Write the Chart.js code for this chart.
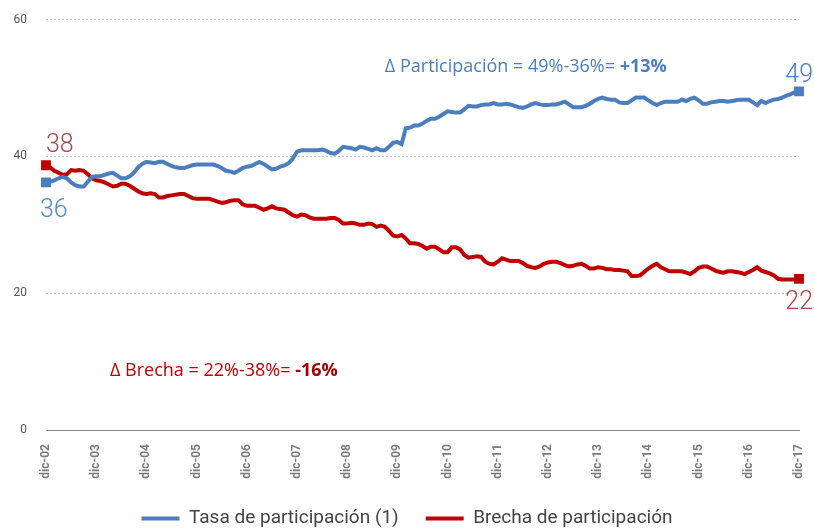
<!DOCTYPE html>
<html>
<head>
<meta charset="utf-8">
<script src="https://cdn.jsdelivr.net/npm/chart.js@4.4.1/dist/chart.umd.min.js"></script>
<style>
  body { margin: 0; background: #fff; }
  canvas { display: block; }
</style>
</head>
<body>
<canvas id="chart" width="814" height="531"></canvas>
<script>
// meses: dic-02 ... dic-17
var monthNames = ['ene','feb','mar','abr','may','jun','jul','ago','sep','oct','nov','dic'];
var labels = [];
for (var k = 0; k <= 180; k++) {
    var m = (11 + k) % 12;
    var yy = 2 + Math.floor((11 + k) / 12);
    labels.push(monthNames[m] + '-' + (yy < 10 ? '0' + yy : '' + yy));
}

var tasaParticipacion = [
    36.2, 36.3, 36.5, 36.8, 37.0, 36.8, 36.2, 35.8, 35.6, 35.6,
    36.3, 37.0, 37.1, 37.1, 37.3, 37.5, 37.6, 37.2, 36.8, 36.8,
    37.1, 37.6, 38.4, 38.9, 39.2, 39.1, 39.0, 39.2, 39.2, 38.9,
    38.6, 38.4, 38.3, 38.3, 38.5, 38.7, 38.8, 38.8, 38.8, 38.8,
    38.8, 38.6, 38.3, 37.9, 37.8, 37.6, 37.9, 38.3, 38.5, 38.6,
    38.9, 39.2, 38.9, 38.5, 38.1, 38.2, 38.5, 38.7, 39.0, 39.7,
    40.7, 40.9, 40.9, 40.9, 40.9, 40.9, 41.0, 40.8, 40.5, 40.4,
    40.8, 41.4, 41.3, 41.2, 41.0, 41.4, 41.3, 41.1, 40.9, 41.2,
    40.9, 40.9, 41.4, 42.0, 42.1, 41.8, 44.1, 44.2, 44.5, 44.5,
    44.8, 45.2, 45.5, 45.5, 45.8, 46.2, 46.6, 46.5, 46.4, 46.4,
    46.9, 47.4, 47.3, 47.3, 47.5, 47.6, 47.6, 47.8, 47.6, 47.6,
    47.7, 47.6, 47.4, 47.2, 47.1, 47.3, 47.6, 47.8, 47.6, 47.5,
    47.5, 47.6, 47.6, 47.8, 48.0, 47.6, 47.2, 47.2, 47.2, 47.4,
    47.7, 48.1, 48.4, 48.6, 48.4, 48.3, 48.3, 47.9, 47.8, 47.8,
    48.2, 48.6, 48.6, 48.6, 48.2, 47.8, 47.5, 47.8, 48.0, 48.0,
    48.0, 48.0, 48.3, 48.1, 48.4, 48.6, 48.2, 47.7, 47.7, 47.9,
    48.0, 48.1, 48.1, 48.0, 48.1, 48.2, 48.3, 48.3, 48.3, 47.9,
    47.5, 48.1, 47.8, 48.1, 48.3, 48.4, 48.6, 48.9, 49.1, 49.4,
    49.5
];

var brechaParticipacion = [
    38.7, 38.4, 37.9, 37.6, 37.3, 37.4, 38.0, 37.9, 38.0, 37.9,
    37.4, 36.8, 36.5, 36.4, 36.2, 35.9, 35.6, 35.7, 36.0, 36.0,
    35.7, 35.3, 34.9, 34.6, 34.5, 34.6, 34.5, 34.0, 34.0, 34.2,
    34.3, 34.4, 34.5, 34.5, 34.2, 33.9, 33.8, 33.8, 33.8, 33.8,
    33.6, 33.4, 33.2, 33.3, 33.5, 33.6, 33.6, 33.0, 32.8, 32.8,
    32.8, 32.5, 32.2, 32.4, 32.7, 32.4, 32.3, 32.2, 31.8, 31.4,
    31.2, 31.5, 31.4, 31.1, 30.9, 30.9, 30.9, 30.9, 31.0, 31.0,
    30.7, 30.2, 30.2, 30.3, 30.2, 30.0, 30.0, 30.2, 30.1, 29.7,
    29.9, 29.7, 29.1, 28.4, 28.3, 28.5, 28.0, 27.3, 27.3, 27.2,
    26.9, 26.5, 26.8, 26.8, 26.4, 26.0, 26.0, 26.7, 26.7, 26.4,
    25.6, 25.2, 25.3, 25.4, 25.3, 24.6, 24.3, 24.2, 24.6, 25.1,
    24.9, 24.7, 24.7, 24.7, 24.4, 24.0, 23.8, 23.7, 23.9, 24.3,
    24.5, 24.6, 24.6, 24.4, 24.1, 23.9, 24.0, 24.2, 24.3, 24.0,
    23.6, 23.6, 23.8, 23.7, 23.5, 23.5, 23.4, 23.4, 23.3, 23.2,
    22.5, 22.5, 22.6, 23.1, 23.6, 24.0, 24.3, 23.8, 23.5, 23.2,
    23.2, 23.2, 23.2, 23.0, 22.8, 23.2, 23.7, 23.9, 23.9, 23.6,
    23.3, 23.1, 23.0, 23.2, 23.2, 23.1, 23.0, 22.8, 23.1, 23.4,
    23.8, 23.3, 23.1, 22.9, 22.6, 22.1, 22.0, 22.0, 22.0, 22.0,
    22.1
];

var yTicks = [0, 20, 40, 60];

var BLUE = '#4a7ebf';
var RED = '#c00000';
var FONT = 'Roboto, "Liberation Sans", sans-serif';
var NOTE_FONT = '"Open Sans", "Noto Sans", sans-serif';

// solo marcador cuadrado en el primer y último punto
function endPoints(n, r) {
    var a = [];
    for (var i = 0; i < n; i++) a.push(i === 0 || i === n - 1 ? r : 0);
    return a;
}

var notesPlugin = {
    id: 'notes',
    afterDatasetsDraw: function (chart) {
        var ctx = chart.ctx;
        var x = chart.scales.x, y = chart.scales.y;
        var last = labels.length - 1;
        ctx.save();
        ctx.textBaseline = 'alphabetic';

        // valores inicio / fin
        ctx.font = '300 25px ' + FONT;
        ctx.textAlign = 'left';
        ctx.fillStyle = '#a8484a';
        ctx.fillText('38', x.getPixelForValue(0), y.getPixelForValue(brechaParticipacion[0]) - 13);
        ctx.fillStyle = '#4a8ad0';
        ctx.fillText('36', x.getPixelForValue(0) - 6, y.getPixelForValue(tasaParticipacion[0]) + 35);
        ctx.textAlign = 'right';
        ctx.fillStyle = BLUE;
        ctx.fillText('49', 813, y.getPixelForValue(tasaParticipacion[last]) - 9);
        ctx.fillStyle = '#a8484a';
        ctx.fillText('22', 813, y.getPixelForValue(brechaParticipacion[last]) + 30);

        // textos de variación
        function mixed(parts, px, py) {
            var cx = px;
            ctx.textAlign = 'left';
            parts.forEach(function (p) {
                ctx.font = p[1] + ' 18px ' + NOTE_FONT;
                ctx.fillStyle = p[2];
                ctx.fillText(p[0], cx, py);
                cx += ctx.measureText(p[0]).width;
            });
        }
        mixed([
            ['\u0394 Participación = 49%-36%= ', 'normal', BLUE],
            ['+13%', 'bold', BLUE]
        ], x.getPixelForValue(81), y.getPixelForValue(52.4));
        mixed([
            ['\u0394 Brecha = 22%-38%= ', 'normal', RED],
            ['-16%', 'bold', '#a00000']
        ], x.getPixelForValue(15.3), y.getPixelForValue(7.9));
        ctx.restore();
    }
};

var config = {
    type: 'line',
    data: {
        labels: labels,
        datasets: [{
            label: 'Tasa de participación (1)',
            data: tasaParticipacion,
            borderColor: BLUE,
            backgroundColor: BLUE,
            borderWidth: 4,
            tension: 0,
            pointStyle: 'rect',
            pointRadius: endPoints(tasaParticipacion.length, 7),
            pointBorderWidth: 0
        }, {
            label: 'Brecha de participación',
            data: brechaParticipacion,
            borderColor: RED,
            backgroundColor: RED,
            borderWidth: 4,
            tension: 0,
            pointStyle: 'rect',
            pointRadius: endPoints(brechaParticipacion.length, 7),
            pointBorderWidth: 0
        }]
    },
    options: {
        responsive: false,
        animation: false,
        layout: { padding: { top: 19, right: 0, left: 0, bottom: -7 } },
        plugins: {
            tooltip: { enabled: false },
            legend: {
                position: 'bottom',
                labels: {
                    font: { family: FONT, size: 19 },
                    color: '#444',
                    boxWidth: 38,
                    boxHeight: 4,
                    padding: 27,
                    generateLabels: function (chart) {
                        return Chart.defaults.plugins.legend.labels.generateLabels(chart).map(function (l) {
                            l.lineWidth = 0;
                            return l;
                        });
                    }
                }
            }
        },
        scales: {
            x: {
                afterFit: function (scale) { scale.height = 52; },
                grid: { display: false },
                border: { display: true, color: '#8a8a8a', width: 1 },
                ticks: {
                    autoSkip: false,
                    maxRotation: 90,
                    minRotation: 90,
                    padding: 6,
                    color: '#7a7a7a',
                    font: { family: FONT, size: 12, weight: 'bold', lineHeight: 0.75 },
                    callback: function (val, idx) {
                        return idx % 12 === 0 ? this.getLabelForValue(val) : null;
                    }
                }
            },
            y: {
                min: 0,
                max: 60,
                afterFit: function (scale) { scale.width = 46; },
                afterBuildTicks: function (scale) {
                    scale.ticks = yTicks.map(function (v) { return { value: v }; });
                },
                grid: {
                    drawTicks: false,
                    color: function (c) { return c.tick && c.tick.value === 0 ? 'rgba(0,0,0,0)' : '#c4c4c4'; },
                    lineWidth: 1
                },
                border: { display: false, dash: [2, 2] },
                ticks: {
                    padding: 19,
                    color: '#555',
                    font: { family: FONT, size: 12, lineHeight: 0.1 }
                }
            }
        }
    },
    plugins: [notesPlugin]
};

var ctx = document.getElementById('chart').getContext('2d');
window.myChart = new Chart(ctx, config);
</script>
</body>
</html>
